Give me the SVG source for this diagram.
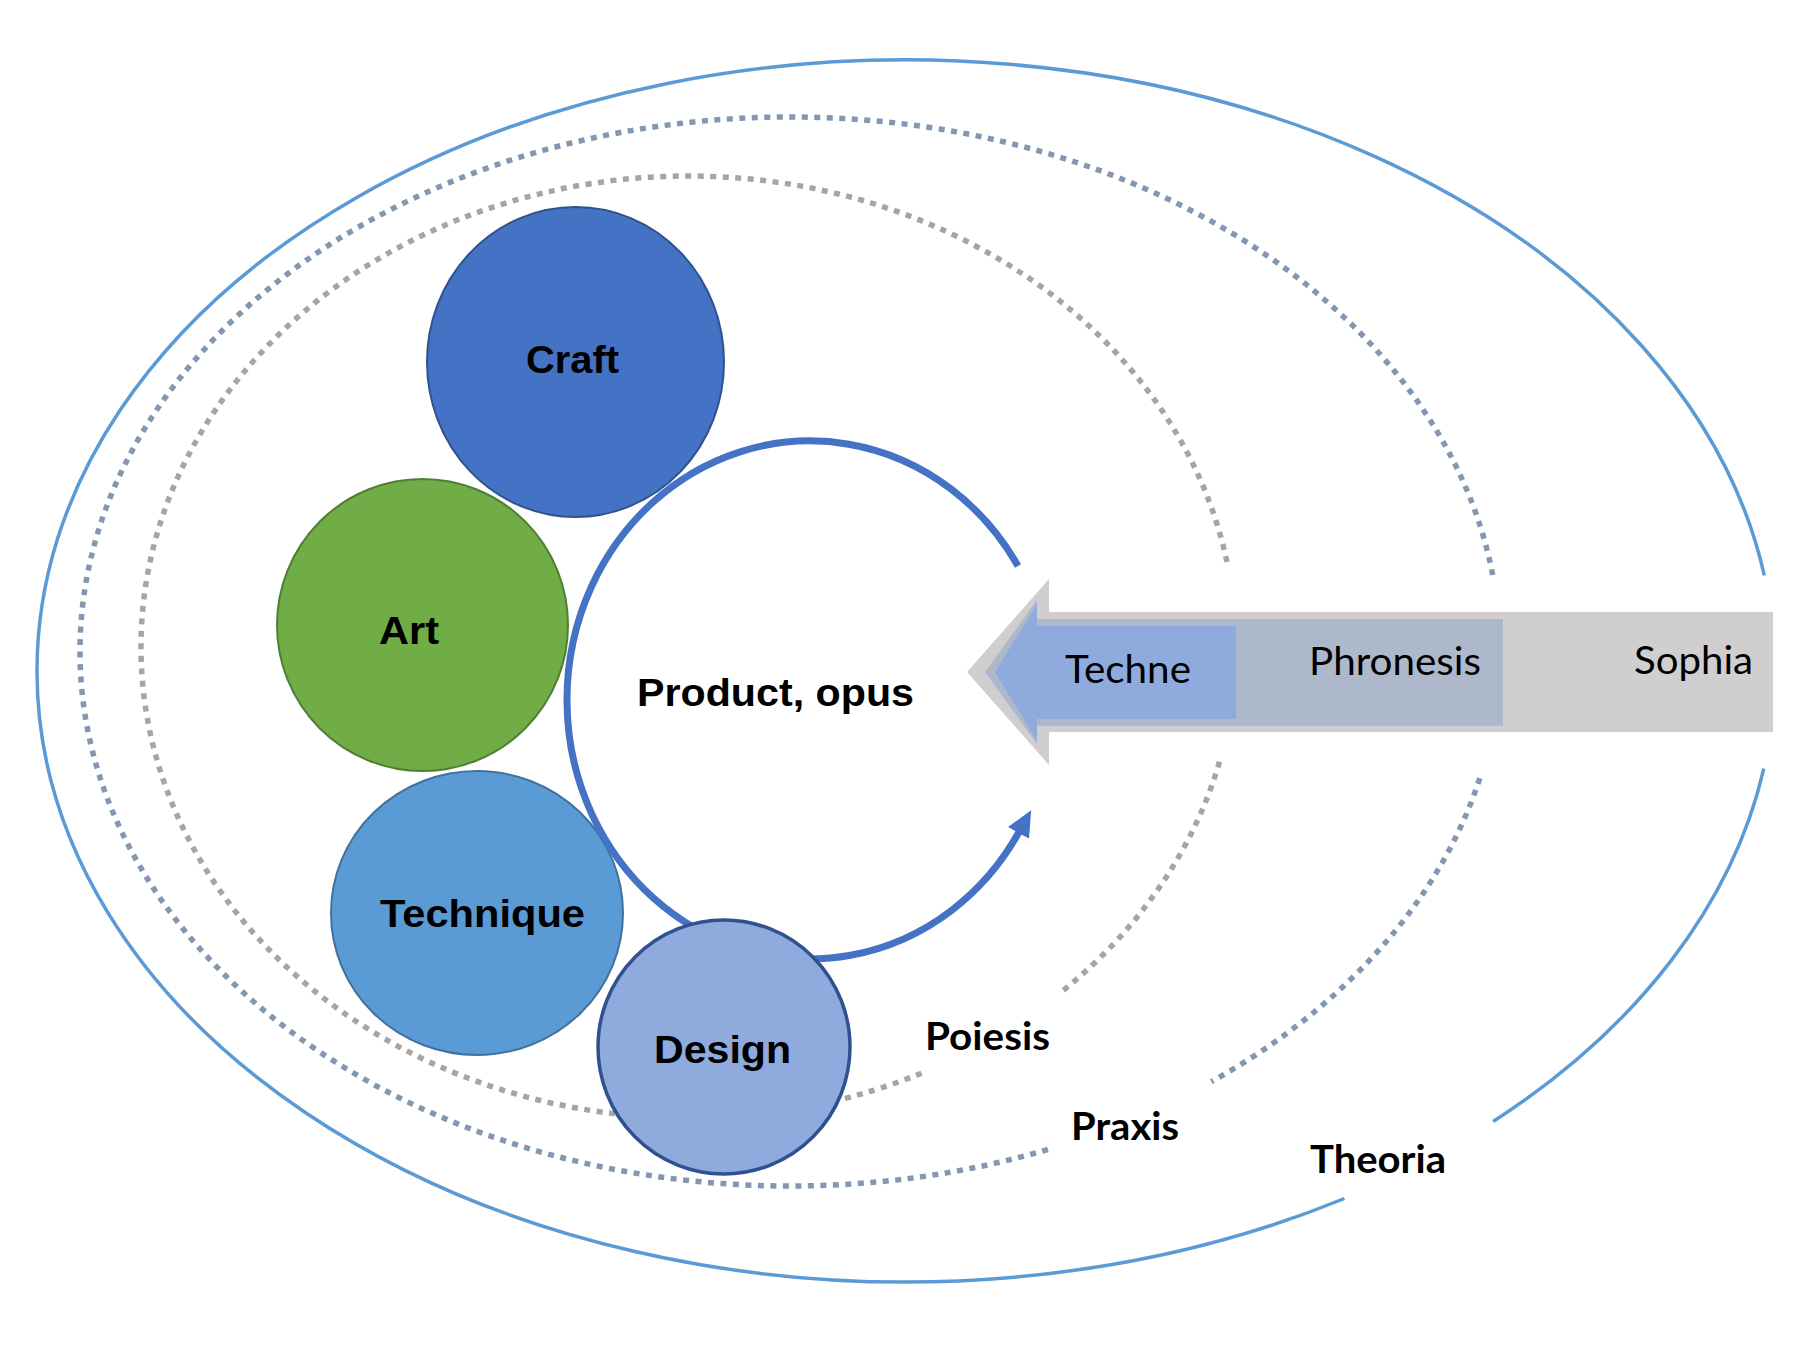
<svg xmlns="http://www.w3.org/2000/svg" width="1810" height="1361" viewBox="0 0 1810 1361">
<style>
.outer{fill:none;stroke:#5B9BD5;stroke-width:3.5}
.mid{fill:none;stroke:#8497B0;stroke-width:5.5;stroke-dasharray:6 6.5}
.inner{fill:none;stroke:#A5A5A5;stroke-width:5.5;stroke-dasharray:6 6.5}
.lbl{font-family:"Liberation Sans",Arial,sans-serif;font-weight:bold;font-size:39px;fill:#000}
.cal{font-family:Lato,"Open Sans",sans-serif;font-size:39px;fill:#000}
.calb{font-family:Lato,"Open Sans",sans-serif;font-weight:bold;font-size:39px;fill:#000}
.ring{fill:none;stroke:#4472C4;stroke-width:7}
</style>
<defs>
<marker id="ah" markerUnits="userSpaceOnUse" markerWidth="28" markerHeight="28" viewBox="0 0 28 28" refX="1" refY="14" orient="auto">
<path d="M0,2 L26,14 L0,26 z" fill="#4472C4"/>
</marker>
</defs>
<rect width="1810" height="1361" fill="#fff"/>
<g id="spheres">
<path class="outer" d="M 1763.8 768.7 A 869 611 0 0 1 1493.1 1121.5"/>
<path class="outer" d="M 1344.4 1198.5 A 869 611 0 1 1 1764.3 575.4"/>
<path class="mid" d="M 1479.8 778.1 A 710 534.5 0 0 1 1211.3 1081.7"/>
<path class="mid" d="M 1047.9 1149.5 A 710 534.5 0 1 1 1493.1 577.1"/>
<path class="inner" d="M 1219.5 761.7 A 547.5 471 0 0 1 1058.4 994.3"/>
<path class="inner" d="M 921.6 1073.2 A 547.5 471 0 1 1 1227.0 562.0"/>
</g>
<g id="arrow">
<polygon points="967,672 1049,579 1049,612 1773,612 1773,732 1049,732 1049,765" fill="#D0CECE"/>
<polygon points="985,672 1037,600 1037,619 1503,619 1503,726 1037,726 1037,744" fill="#ADB9CA"/>
<polygon points="995,672 1037,604 1037,626 1236,626 1236,719 1037,719 1037,741" fill="#8FAADC"/>
<text class="cal" x="1065" y="683" textLength="126" lengthAdjust="spacingAndGlyphs">Techne</text>
<text class="cal" x="1309" y="675" textLength="172" lengthAdjust="spacingAndGlyphs">Phronesis</text>
<text class="cal" x="1634" y="674" textLength="119" lengthAdjust="spacingAndGlyphs">Sophia</text>
</g>
<g id="craft">
<ellipse cx="575.5" cy="362" rx="148.5" ry="155" fill="#4472C4" stroke="#2F528F" stroke-width="2"/>
<text class="lbl" x="526" y="373" textLength="93" lengthAdjust="spacingAndGlyphs">Craft</text>
</g>
<g id="art">
<ellipse cx="422.5" cy="625" rx="145.5" ry="146" fill="#70AD47" stroke="#507E32" stroke-width="2"/>
<text class="lbl" x="379" y="644" textLength="60" lengthAdjust="spacingAndGlyphs">Art</text>
</g>
<g id="technique">
<ellipse cx="477" cy="913" rx="146" ry="142" fill="#5B9BD5" stroke="#41719C" stroke-width="2"/>
<text class="lbl" x="380" y="927" textLength="205" lengthAdjust="spacingAndGlyphs">Technique</text>
</g>
<g id="connectors">
<path class="ring" d="M 1018 566 A 243 259 0 1 0 1019 832" marker-end="url(#ah)"/>
</g>
<g id="design">
<ellipse cx="724" cy="1047" rx="126" ry="127" fill="#8FAADC" stroke="#2F528F" stroke-width="3.5"/>
<text class="lbl" x="654" y="1063" textLength="137" lengthAdjust="spacingAndGlyphs">Design</text>
</g>
<g id="product">
<text class="lbl" x="637" y="706" textLength="277" lengthAdjust="spacingAndGlyphs">Product, opus</text>
</g>
<g id="labels">
<text class="calb" x="925" y="1050" textLength="125" lengthAdjust="spacingAndGlyphs">Poiesis</text>
<text class="calb" x="1071" y="1140" textLength="108" lengthAdjust="spacingAndGlyphs">Praxis</text>
<text class="calb" x="1310" y="1173" textLength="136" lengthAdjust="spacingAndGlyphs">Theoria</text>
</g>
</svg>
